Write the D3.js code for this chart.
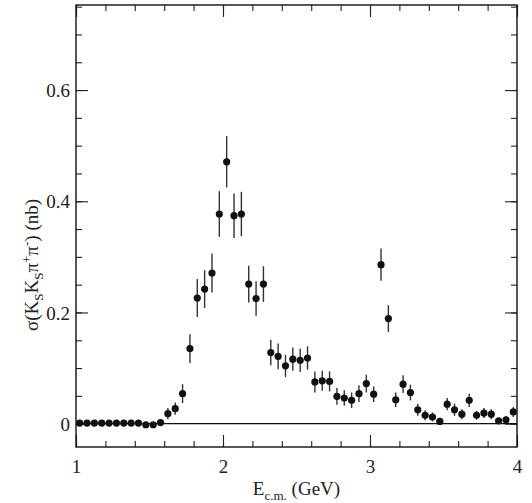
<!DOCTYPE html>
<html>
<head>
<meta charset="utf-8">
<script src="https://cdn.jsdelivr.net/npm/d3@7"></script>
<style>
  body { margin: 0; background: #fff; }
  svg text { font-family: "Liberation Serif", "Times New Roman", serif; fill: #222; }
</style>
</head>
<body>
<svg id="chart"></svg>
<script>
// bin centres (GeV)
var energy = [1.025, 1.075, 1.125, 1.175, 1.225, 1.275, 1.325, 1.375, 1.425, 1.475,
              1.525, 1.575, 1.625, 1.675, 1.725, 1.775, 1.825, 1.875, 1.925, 1.975,
              2.025, 2.075, 2.125, 2.175, 2.225, 2.275, 2.325, 2.375, 2.425, 2.475,
              2.525, 2.575, 2.625, 2.675, 2.725, 2.775, 2.825, 2.875, 2.925, 2.975,
              3.025, 3.075, 3.125, 3.175, 3.225, 3.275, 3.325, 3.375, 3.425, 3.475,
              3.525, 3.575, 3.625, 3.675, 3.725, 3.775, 3.825, 3.875, 3.925, 3.975];
// cross section (nb)
var sigma = [0.001, 0.001, 0.001, 0.001, 0.001, 0.001, 0.001, 0.001, 0.001, -0.002,
             -0.002, 0.002, 0.018, 0.027, 0.054, 0.135, 0.226, 0.242, 0.271, 0.377,
             0.471, 0.374, 0.377, 0.251, 0.225, 0.251, 0.128, 0.121, 0.104, 0.116,
             0.114, 0.118, 0.075, 0.077, 0.076, 0.049, 0.046, 0.042, 0.054, 0.072,
             0.053, 0.286, 0.189, 0.043, 0.071, 0.056, 0.025, 0.015, 0.012, 0.004,
             0.035, 0.025, 0.017, 0.042, 0.015, 0.019, 0.017, 0.005, 0.007, 0.021];
// statistical errors (nb)
var sigmaErr = [0.001, 0.001, 0.001, 0.001, 0.001, 0.001, 0.001, 0.001, 0.001, 0.001,
                0.001, 0.002, 0.010, 0.011, 0.017, 0.026, 0.034, 0.034, 0.035, 0.041,
                0.046, 0.040, 0.040, 0.033, 0.031, 0.032, 0.023, 0.023, 0.020, 0.021,
                0.021, 0.021, 0.019, 0.018, 0.018, 0.015, 0.014, 0.014, 0.015, 0.016,
                0.014, 0.029, 0.024, 0.013, 0.016, 0.014, 0.011, 0.009, 0.008, 0.005,
                0.011, 0.011, 0.009, 0.012, 0.008, 0.009, 0.009, 0.005, 0.006, 0.009];

var xTickLabels = [1, 2, 3, 4];
var yTickLabels = [0, 0.2, 0.4, 0.6];

var serif = '"Liberation Serif", "Times New Roman", serif';
var width = 532, height = 503;
var margin = {left: 76, top: 5, right: 15, bottom: 56};
var plotW = width - margin.left - margin.right,
    plotH = height - margin.top - margin.bottom;

var svg = d3.select("#chart")
    .attr("width", width)
    .attr("height", height);

var g = svg.append("g")
    .attr("transform", "translate(" + margin.left + "," + margin.top + ")");

// scales
var x = d3.scaleLinear().domain([1, 4]).range([0, plotW]);
var y = d3.scaleLinear().domain([-0.042, 0.753]).range([plotH, 0]);

// ticks on all four sides, pointing inwards
function tickAxes(axisFn, scale, major, minorCount, transform, fmt) {
    g.append("g")
        .attr("class", "minor")
        .attr("transform", transform)
        .call(axisFn(scale).ticks(minorCount).tickSize(-6).tickFormat(""));
    var a = g.append("g")
        .attr("class", "major")
        .attr("transform", transform)
        .call(axisFn(scale).tickValues(major).tickSize(-12).tickFormat(fmt));
    return a;
}

var xb = tickAxes(d3.axisBottom, x, xTickLabels, 15, "translate(0," + plotH + ")", d3.format("d"));
xb.selectAll("text").attr("dy", "1.2em");
tickAxes(d3.axisTop, x, xTickLabels, 15, "translate(0,0)", "");
var yl = tickAxes(d3.axisLeft, y, yTickLabels, 16, "translate(0,0)",
    function(d) { return d === 0 ? "0" : d3.format(".1f")(d); });
yl.selectAll("text").attr("x", -6).attr("dy", "0.35em");
tickAxes(d3.axisRight, y, yTickLabels, 16, "translate(" + plotW + ",0)", "");

g.selectAll(".domain").remove();
g.selectAll(".minor, .major").attr("font-family", null).attr("font-size", null);
g.selectAll(".tick line").attr("stroke", "#222").attr("stroke-width", 1.1);
g.selectAll(".major text")
    .style("font-family", serif)
    .style("font-size", "19px")
    .attr("fill", "#222");

// frame
g.append("rect")
    .attr("width", plotW)
    .attr("height", plotH)
    .attr("fill", "none")
    .attr("stroke", "#111")
    .attr("stroke-width", 1.4);

// zero line
g.append("line")
    .attr("x1", 0).attr("x2", plotW)
    .attr("y1", y(0)).attr("y2", y(0))
    .attr("stroke", "#111")
    .attr("stroke-width", 1.3);

// error bars
g.selectAll("line.err")
    .data(sigma)
    .enter()
    .append("line")
    .attr("class", "err")
    .attr("x1", function(d, i) { return x(energy[i]); })
    .attr("x2", function(d, i) { return x(energy[i]); })
    .attr("y1", function(d, i) { return y(d - sigmaErr[i]); })
    .attr("y2", function(d, i) { return y(d + sigmaErr[i]); })
    .attr("stroke", "#333")
    .attr("stroke-width", 1.4);

// points
g.selectAll("circle")
    .data(sigma)
    .enter()
    .append("circle")
    .attr("cx", function(d, i) { return x(energy[i]); })
    .attr("cy", function(d) { return y(d); })
    .attr("r", 3.6)
    .attr("fill", "#111");

// axis titles
var xt = svg.append("text")
    .attr("x", margin.left + plotW / 2)
    .attr("y", 495)
    .attr("text-anchor", "middle")
    .style("font-family", serif)
    .style("font-size", "19px");
xt.append("tspan").text("E");
xt.append("tspan").attr("dy", 5).style("font-size", "13px").text("c.m.");
xt.append("tspan").attr("dy", -5).text(" (GeV)");

var yt = svg.append("text")
    .attr("transform", "translate(38,265) rotate(-90)")
    .attr("text-anchor", "middle")
    .style("font-family", serif)
    .style("font-size", "19px");
yt.append("tspan").text("σ(K");
yt.append("tspan").attr("dy", 5).style("font-size", "13px").text("S");
yt.append("tspan").attr("dy", -5).text("K");
yt.append("tspan").attr("dy", 5).style("font-size", "13px").text("S");
yt.append("tspan").attr("dy", -5).text("π");
yt.append("tspan").attr("dy", -7).style("font-size", "13px").text("+");
yt.append("tspan").attr("dy", 7).text("π");
yt.append("tspan").attr("dy", -7).style("font-size", "13px").text("-");
yt.append("tspan").attr("dy", 7).text(") (nb)");
</script>
</body>
</html>
